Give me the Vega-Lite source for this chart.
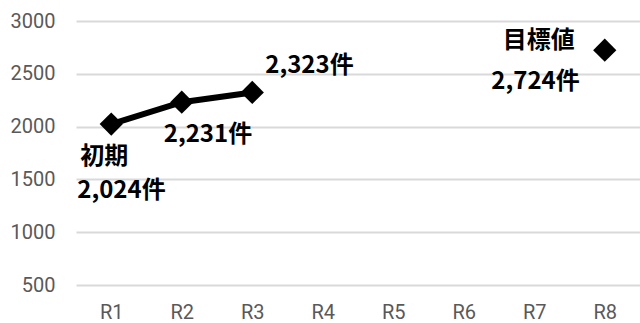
{
  "$schema": "https://vega.github.io/schema/vega-lite/v6.json",
  "width": 564,
  "height": 264,
  "autosize": {"type": "none"},
  "padding": {"left": 76, "top": 21, "right": 0, "bottom": 38},
  "background": "white",
  "config": {"view": {"stroke": null}},
  "datasets": {
    "pts": [
      {"round": "R1", "value": 2024, "series": "実績"},
      {"round": "R2", "value": 2231, "series": "実績"},
      {"round": "R3", "value": 2323, "series": "実績"},
      {"round": "R8", "value": 2724, "series": "目標"}
    ]
  },
  "data": {"name": "pts"},
  "encoding": {
    "x": {
      "field": "round", "type": "nominal",
      "scale": {"domain": ["R1","R2","R3","R4","R5","R6","R7","R8"], "paddingInner": 0, "paddingOuter": 0},
      "axis": {"title": null, "labelAngle": 0, "domain": false, "ticks": false, "grid": false,
               "labelFont": "Roboto", "labelFontSize": 20, "labelColor": "#595959", "labelPadding": 17}
    },
    "y": {
      "field": "value", "type": "quantitative",
      "scale": {"domain": [500, 3000], "nice": false, "zero": false},
      "axis": {"title": null, "values": [500,1000,1500,2000,2500,3000], "format": "d", "domain": false, "ticks": false,
               "grid": true, "gridColor": "#d9d9d9", "gridWidth": 2,
               "labelFont": "Roboto", "labelFontSize": 20, "labelColor": "#595959", "labelPadding": 21}
    }
  },
  "layer": [
    {
      "transform": [{"filter": "datum.series == '実績'"}],
      "mark": {"type": "line", "color": "black", "strokeWidth": 6}
    },
    {
      "mark": {"type": "point", "shape": "diamond", "filled": true, "color": "black", "size": 540, "opacity": 1}
    },
    {
      "transform": [{"filter": "datum.round == 'R1'"}, {"calculate": "'初期'", "as": "label"}],
      "mark": {"type": "text", "font": "Noto Sans CJK JP", "fontWeight": "bold", "fontSize": 24, "align": "left", "baseline": "middle", "dx": -31, "dy": 33, "color": "black"},
      "encoding": {"text": {"field": "label"}}
    },
    {
      "transform": [{"filter": "datum.round == 'R1'"}, {"calculate": "format(datum.value, ',d') + '件'", "as": "label"}],
      "mark": {"type": "text", "font": "Noto Sans CJK JP", "fontWeight": "bold", "fontSize": 24, "align": "left", "baseline": "middle", "dx": -34, "dy": 67, "color": "black"},
      "encoding": {"text": {"field": "label"}}
    },
    {
      "transform": [{"filter": "datum.round == 'R2'"}, {"calculate": "format(datum.value, ',d') + '件'", "as": "label"}],
      "mark": {"type": "text", "font": "Noto Sans CJK JP", "fontWeight": "bold", "fontSize": 24, "align": "left", "baseline": "middle", "dx": -18, "dy": 33, "color": "black"},
      "encoding": {"text": {"field": "label"}}
    },
    {
      "transform": [{"filter": "datum.round == 'R3'"}, {"calculate": "format(datum.value, ',d') + '件'", "as": "label"}],
      "mark": {"type": "text", "font": "Noto Sans CJK JP", "fontWeight": "bold", "fontSize": 24, "align": "left", "baseline": "middle", "dx": 13, "dy": -26, "color": "black"},
      "encoding": {"text": {"field": "label"}}
    },
    {
      "transform": [{"filter": "datum.round == 'R8'"}, {"calculate": "'目標値'", "as": "label"}],
      "mark": {"type": "text", "font": "Noto Sans CJK JP", "fontWeight": "bold", "fontSize": 24, "align": "right", "baseline": "middle", "dx": -30, "dy": -9, "color": "black"},
      "encoding": {"text": {"field": "label"}}
    },
    {
      "transform": [{"filter": "datum.round == 'R8'"}, {"calculate": "format(datum.value, ',d') + '件'", "as": "label"}],
      "mark": {"type": "text", "font": "Noto Sans CJK JP", "fontWeight": "bold", "fontSize": 24, "align": "right", "baseline": "middle", "dx": -25, "dy": 32, "color": "black"},
      "encoding": {"text": {"field": "label"}}
    }
  ]
}
